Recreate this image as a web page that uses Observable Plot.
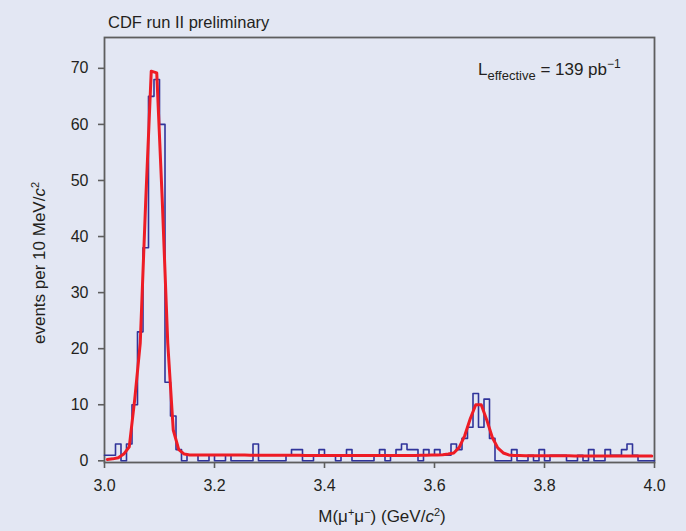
<!DOCTYPE html>
<html>
<head>
<meta charset="utf-8">
<script src="https://cdn.jsdelivr.net/npm/d3@7"></script>
<script src="https://cdn.jsdelivr.net/npm/@observablehq/plot@0.6"></script>
<style>
  html, body { margin: 0; padding: 0; background: #e3e7f3; }
  #chart { width: 686px; height: 531px; }
</style>
</head>
<body>
<div id="chart"></div>
<script>
// ---- data ----
const binStart = 3.0;      // GeV/c^2, lower edge of first bin
const binWidth = 0.01;     // 10 MeV/c^2 bins

// events per 10 MeV/c^2 (100 bins, 3.00 - 4.00 GeV/c^2)
const counts = [
  1, 1, 3, 0, 3, 10, 23, 38, 65, 68,
  60, 14, 8, 2, 0, 1, 1, 0, 0, 1,
  0, 0, 1, 0, 0, 0, 0, 3, 0, 0,
  0, 0, 0, 1, 2, 2, 0, 0, 1, 2,
  1, 1, 0, 1, 2, 0, 0, 0, 0, 1,
  2, 0, 1, 2, 3, 2, 2, 0, 2, 1,
  2, 1, 1, 3, 2, 4, 6, 12, 6, 11,
  4, 0, 0, 0, 2, 0, 0, 1, 0, 2,
  0, 1, 1, 1, 0, 0, 1, 0, 2, 0,
  0, 2, 1, 1, 2, 3, 1, 0, 0, 0
];

// fitted curve, read at bin centres
const fitValues = [
  0.25, 0.35, 0.55, 1.2, 2.5, 11, 21, 46.5, 69.5, 69.2,
  46.5, 21, 5.5, 2.0, 1.2, 1.05, 1.05, 1.05, 1.05, 1.05,
  1.04, 1.04, 1.03, 1.03, 1.02, 1.02, 1.01, 1.01, 1.0, 1.0,
  1.0, 0.99, 0.99, 0.98, 0.98, 0.98, 0.97, 0.97, 0.97, 0.96,
  0.96, 0.96, 0.95, 0.95, 0.95, 0.95, 0.94, 0.94, 0.94, 0.94,
  0.94, 0.94, 0.94, 0.95, 0.95, 0.96, 0.97, 0.98, 1.0, 1.02,
  1.05, 1.1, 1.2, 1.4, 2.4, 4.5, 7.5, 10.0, 10.0, 7.3,
  4.2, 2.3, 1.4, 1.05, 0.95, 0.93, 0.92, 0.92, 0.91, 0.91,
  0.9, 0.9, 0.9, 0.89, 0.89, 0.88, 0.88, 0.88, 0.87, 0.87,
  0.87, 0.86, 0.86, 0.86, 0.85, 0.85, 0.85, 0.85, 0.84, 0.84
];

const xTicks = [3.0, 3.2, 3.4, 3.6, 3.8, 4.0];
const yTicks = [0, 10, 20, 30, 40, 50, 60, 70];

const titleText = "CDF run II preliminary";
const lumiText = { base: "L", sub: "effective", main: " = 139 pb", sup: "−1" };
const yTitle = { main: "events per 10 MeV/", ital: "c", sup: "2" };

// ---- build tables ----
const histData = counts.map((c, i) => ({ x: binStart + i * binWidth, y: c }));
histData.push({ x: binStart + counts.length * binWidth, y: counts[counts.length - 1] });
const fitData = fitValues.map((v, i) => ({ x: binStart + (i + 0.5) * binWidth, y: v }));

const FONT = "'Liberation Sans', Arial, 'DejaVu Sans', sans-serif";
const INK = "#231f20";
const FRAME = "#5e5e5e";

const chart = Plot.plot({
  width: 686,
  height: 531,
  marginLeft: 104,
  marginRight: 32,
  marginTop: 37,
  marginBottom: 69,
  style: { background: "transparent", fontFamily: FONT, fontSize: "16px", color: INK, overflow: "visible" },
  x: { domain: [3.0, 4.0] },
  y: { domain: [-0.3, 75.5] },
  marks: [
    Plot.frame({ stroke: FRAME, strokeWidth: 1.8 }),
    Plot.line(histData, { x: "x", y: "y", curve: "step-after", stroke: "#30349a", strokeWidth: 1.6 }),
    Plot.line(fitData, { x: "x", y: "y", stroke: "#ee1c25", strokeWidth: 3 }),
    Plot.axisX({ ticks: xTicks, tickFormat: d3.format(".1f"), tickSize: 6, tickPadding: 11, stroke: FRAME, strokeWidth: 1.6, label: null, fontSize: 16 }),
    Plot.axisY({ ticks: yTicks, tickSize: 6, tickPadding: 10, stroke: FRAME, strokeWidth: 1.6, label: null, fontSize: 16 })
  ]
});
document.getElementById("chart").appendChild(chart);

// ---- text annotations ----
const svg = d3.select(chart);
const g = svg.append("g").attr("font-family", FONT).attr("fill", INK);

g.append("text").attr("x", 108).attr("y", 28).attr("text-anchor", "start").attr("font-size", 16.5).text(titleText);

const lt = g.append("text").attr("x", 478).attr("y", 75).attr("text-anchor", "start").attr("font-size", 17);
lt.append("tspan").text(lumiText.base);
lt.append("tspan").attr("dy", 5).attr("font-size", 13).text(lumiText.sub);
lt.append("tspan").attr("dy", -5).text(lumiText.main);
lt.append("tspan").attr("dy", -7).attr("font-size", 12).text(lumiText.sup);

const xt = g.append("text").attr("x", 382).attr("y", 522).attr("text-anchor", "middle").attr("font-size", 17);
xt.append("tspan").text("M(μ");
xt.append("tspan").attr("dy", -6).attr("font-size", 11).text("+");
xt.append("tspan").attr("dy", 6).text("μ");
xt.append("tspan").attr("dy", -6).attr("font-size", 11).text("−");
xt.append("tspan").attr("dy", 6).text(") (GeV/");
xt.append("tspan").attr("font-style", "italic").text("c");
xt.append("tspan").attr("dy", -6).attr("font-size", 11).text("2");
xt.append("tspan").attr("dy", 6).text(")");

const yt = g.append("text").attr("transform", "translate(45,263) rotate(-90)").attr("text-anchor", "middle").attr("font-size", 17);
yt.append("tspan").text(yTitle.main);
yt.append("tspan").attr("font-style", "italic").text(yTitle.ital);
yt.append("tspan").attr("dy", -6).attr("font-size", 11).text(yTitle.sup);
</script>
</body>
</html>
